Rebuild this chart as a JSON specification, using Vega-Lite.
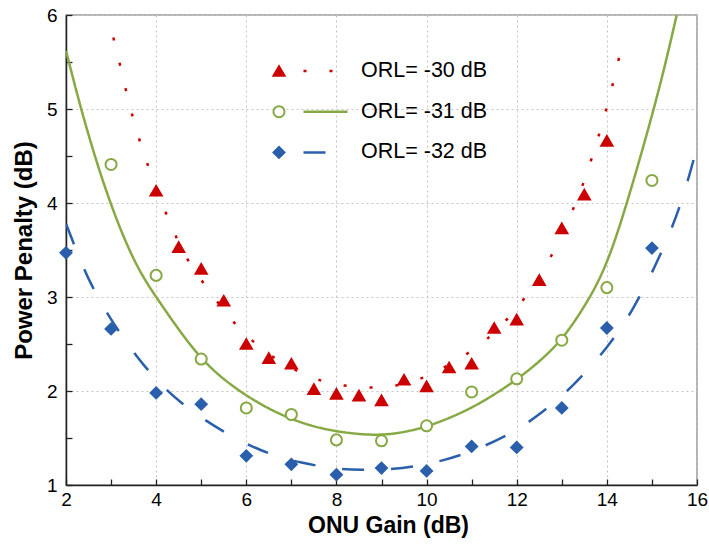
{
  "$schema": "https://vega.github.io/schema/vega-lite/v6.json",
  "width": 631,
  "height": 470,
  "autosize": {"type": "none"},
  "padding": {"left": 66, "top": 15, "right": 12, "bottom": 59},
  "background": "white",
  "config": {
    "view": {"stroke": "#9a9a9a", "strokeWidth": 1.5},
    "font": "Liberation Sans"
  },
  "datasets": {
    "fitted": [
      {"series": "ORL= -30 dB", "gain": 3.05, "penalty": 5.76},
      {"series": "ORL= -30 dB", "gain": 3.2, "penalty": 5.47},
      {"series": "ORL= -30 dB", "gain": 3.4, "penalty": 5.05},
      {"series": "ORL= -30 dB", "gain": 3.6, "penalty": 4.71},
      {"series": "ORL= -30 dB", "gain": 3.8, "penalty": 4.42},
      {"series": "ORL= -30 dB", "gain": 4.0, "penalty": 4.15},
      {"series": "ORL= -30 dB", "gain": 4.2, "penalty": 3.91},
      {"series": "ORL= -30 dB", "gain": 4.4, "penalty": 3.69},
      {"series": "ORL= -30 dB", "gain": 4.6, "penalty": 3.46},
      {"series": "ORL= -30 dB", "gain": 5.0, "penalty": 3.18},
      {"series": "ORL= -30 dB", "gain": 5.4, "penalty": 2.92},
      {"series": "ORL= -30 dB", "gain": 5.8, "penalty": 2.68},
      {"series": "ORL= -30 dB", "gain": 6.3, "penalty": 2.46},
      {"series": "ORL= -30 dB", "gain": 6.8, "penalty": 2.29},
      {"series": "ORL= -30 dB", "gain": 7.4, "penalty": 2.15},
      {"series": "ORL= -30 dB", "gain": 7.9, "penalty": 2.07},
      {"series": "ORL= -30 dB", "gain": 8.5, "penalty": 2.04},
      {"series": "ORL= -30 dB", "gain": 9.0, "penalty": 2.03},
      {"series": "ORL= -30 dB", "gain": 9.5, "penalty": 2.07},
      {"series": "ORL= -30 dB", "gain": 10.0, "penalty": 2.15},
      {"series": "ORL= -30 dB", "gain": 10.5, "penalty": 2.28},
      {"series": "ORL= -30 dB", "gain": 11.1, "penalty": 2.45},
      {"series": "ORL= -30 dB", "gain": 11.6, "penalty": 2.66},
      {"series": "ORL= -30 dB", "gain": 12.1, "penalty": 2.93},
      {"series": "ORL= -30 dB", "gain": 12.5, "penalty": 3.21},
      {"series": "ORL= -30 dB", "gain": 12.8, "penalty": 3.46},
      {"series": "ORL= -30 dB", "gain": 13.05, "penalty": 3.71},
      {"series": "ORL= -30 dB", "gain": 13.25, "penalty": 3.93},
      {"series": "ORL= -30 dB", "gain": 13.5, "penalty": 4.23},
      {"series": "ORL= -30 dB", "gain": 13.7, "penalty": 4.53},
      {"series": "ORL= -30 dB", "gain": 13.9, "penalty": 4.84},
      {"series": "ORL= -30 dB", "gain": 14.1, "penalty": 5.2},
      {"series": "ORL= -30 dB", "gain": 14.25, "penalty": 5.5},
      {"series": "ORL= -30 dB", "gain": 14.38, "penalty": 5.78},

      {"series": "ORL= -31 dB", "gain": 2.0, "penalty": 5.62},
      {"series": "ORL= -31 dB", "gain": 2.25, "penalty": 5.15},
      {"series": "ORL= -31 dB", "gain": 2.5, "penalty": 4.72},
      {"series": "ORL= -31 dB", "gain": 2.75, "penalty": 4.33},
      {"series": "ORL= -31 dB", "gain": 3.0, "penalty": 3.98},
      {"series": "ORL= -31 dB", "gain": 3.25, "penalty": 3.67},
      {"series": "ORL= -31 dB", "gain": 3.5, "penalty": 3.4},
      {"series": "ORL= -31 dB", "gain": 3.75, "penalty": 3.18},
      {"series": "ORL= -31 dB", "gain": 4.0, "penalty": 3.0},
      {"series": "ORL= -31 dB", "gain": 4.5, "penalty": 2.65},
      {"series": "ORL= -31 dB", "gain": 5.0, "penalty": 2.34},
      {"series": "ORL= -31 dB", "gain": 5.5, "penalty": 2.12},
      {"series": "ORL= -31 dB", "gain": 6.0, "penalty": 1.95},
      {"series": "ORL= -31 dB", "gain": 6.5, "penalty": 1.81},
      {"series": "ORL= -31 dB", "gain": 7.0, "penalty": 1.7},
      {"series": "ORL= -31 dB", "gain": 7.5, "penalty": 1.62},
      {"series": "ORL= -31 dB", "gain": 8.0, "penalty": 1.57},
      {"series": "ORL= -31 dB", "gain": 8.5, "penalty": 1.54},
      {"series": "ORL= -31 dB", "gain": 9.0, "penalty": 1.53},
      {"series": "ORL= -31 dB", "gain": 9.5, "penalty": 1.56},
      {"series": "ORL= -31 dB", "gain": 10.0, "penalty": 1.62},
      {"series": "ORL= -31 dB", "gain": 10.5, "penalty": 1.71},
      {"series": "ORL= -31 dB", "gain": 11.0, "penalty": 1.82},
      {"series": "ORL= -31 dB", "gain": 11.5, "penalty": 1.96},
      {"series": "ORL= -31 dB", "gain": 12.0, "penalty": 2.12},
      {"series": "ORL= -31 dB", "gain": 12.5, "penalty": 2.31},
      {"series": "ORL= -31 dB", "gain": 13.0, "penalty": 2.54},
      {"series": "ORL= -31 dB", "gain": 13.5, "penalty": 2.89},
      {"series": "ORL= -31 dB", "gain": 14.0, "penalty": 3.32},
      {"series": "ORL= -31 dB", "gain": 14.5, "penalty": 4.08},
      {"series": "ORL= -31 dB", "gain": 15.0, "penalty": 4.92},
      {"series": "ORL= -31 dB", "gain": 15.3, "penalty": 5.48},
      {"series": "ORL= -31 dB", "gain": 15.55, "penalty": 6.0},

      {"series": "ORL= -32 dB", "gain": 2.0, "penalty": 3.78},
      {"series": "ORL= -32 dB", "gain": 2.34, "penalty": 3.36},
      {"series": "ORL= -32 dB", "gain": 2.56, "penalty": 3.13},
      {"series": "ORL= -32 dB", "gain": 2.81, "penalty": 2.91},
      {"series": "ORL= -32 dB", "gain": 3.08, "penalty": 2.7},
      {"series": "ORL= -32 dB", "gain": 3.38, "penalty": 2.49},
      {"series": "ORL= -32 dB", "gain": 3.71, "penalty": 2.28},
      {"series": "ORL= -32 dB", "gain": 4.12, "penalty": 2.06},
      {"series": "ORL= -32 dB", "gain": 4.53, "penalty": 1.88},
      {"series": "ORL= -32 dB", "gain": 5.05, "penalty": 1.7},
      {"series": "ORL= -32 dB", "gain": 5.42, "penalty": 1.59},
      {"series": "ORL= -32 dB", "gain": 5.9, "penalty": 1.46},
      {"series": "ORL= -32 dB", "gain": 6.31, "penalty": 1.37},
      {"series": "ORL= -32 dB", "gain": 6.83, "penalty": 1.28},
      {"series": "ORL= -32 dB", "gain": 7.2, "penalty": 1.24},
      {"series": "ORL= -32 dB", "gain": 7.72, "penalty": 1.19},
      {"series": "ORL= -32 dB", "gain": 8.09, "penalty": 1.17},
      {"series": "ORL= -32 dB", "gain": 8.57, "penalty": 1.16},
      {"series": "ORL= -32 dB", "gain": 8.97, "penalty": 1.16},
      {"series": "ORL= -32 dB", "gain": 9.47, "penalty": 1.18},
      {"series": "ORL= -32 dB", "gain": 9.89, "penalty": 1.21},
      {"series": "ORL= -32 dB", "gain": 10.36, "penalty": 1.26},
      {"series": "ORL= -32 dB", "gain": 10.78, "penalty": 1.32},
      {"series": "ORL= -32 dB", "gain": 11.26, "penalty": 1.41},
      {"series": "ORL= -32 dB", "gain": 11.67, "penalty": 1.5},
      {"series": "ORL= -32 dB", "gain": 12.15, "penalty": 1.63},
      {"series": "ORL= -32 dB", "gain": 12.56, "penalty": 1.77},
      {"series": "ORL= -32 dB", "gain": 13.04, "penalty": 1.96},
      {"series": "ORL= -32 dB", "gain": 13.41, "penalty": 2.14},
      {"series": "ORL= -32 dB", "gain": 13.85, "penalty": 2.37},
      {"series": "ORL= -32 dB", "gain": 14.15, "penalty": 2.56},
      {"series": "ORL= -32 dB", "gain": 14.48, "penalty": 2.79},
      {"series": "ORL= -32 dB", "gain": 14.71, "penalty": 2.99},
      {"series": "ORL= -32 dB", "gain": 14.97, "penalty": 3.23},
      {"series": "ORL= -32 dB", "gain": 15.15, "penalty": 3.41},
      {"series": "ORL= -32 dB", "gain": 15.45, "penalty": 3.74},
      {"series": "ORL= -32 dB", "gain": 15.7, "penalty": 4.07},
      {"series": "ORL= -32 dB", "gain": 15.96, "penalty": 4.52},
      {"series": "ORL= -32 dB", "gain": 16.0, "penalty": 4.6}
    ],
    "measured": [
      {"series": "ORL= -30 dB", "gain": 4.0, "penalty": 4.13},
      {"series": "ORL= -30 dB", "gain": 4.5, "penalty": 3.53},
      {"series": "ORL= -30 dB", "gain": 5.0, "penalty": 3.3},
      {"series": "ORL= -30 dB", "gain": 5.5, "penalty": 2.96},
      {"series": "ORL= -30 dB", "gain": 6.0, "penalty": 2.5},
      {"series": "ORL= -30 dB", "gain": 6.5, "penalty": 2.35},
      {"series": "ORL= -30 dB", "gain": 7.0, "penalty": 2.29},
      {"series": "ORL= -30 dB", "gain": 7.5, "penalty": 2.02},
      {"series": "ORL= -30 dB", "gain": 8.0, "penalty": 1.97},
      {"series": "ORL= -30 dB", "gain": 8.5, "penalty": 1.95},
      {"series": "ORL= -30 dB", "gain": 9.0, "penalty": 1.9},
      {"series": "ORL= -30 dB", "gain": 9.5, "penalty": 2.12},
      {"series": "ORL= -30 dB", "gain": 10.0, "penalty": 2.05},
      {"series": "ORL= -30 dB", "gain": 10.5, "penalty": 2.25},
      {"series": "ORL= -30 dB", "gain": 11.0, "penalty": 2.29},
      {"series": "ORL= -30 dB", "gain": 11.5, "penalty": 2.67},
      {"series": "ORL= -30 dB", "gain": 12.0, "penalty": 2.76},
      {"series": "ORL= -30 dB", "gain": 12.5, "penalty": 3.18},
      {"series": "ORL= -30 dB", "gain": 13.0, "penalty": 3.73},
      {"series": "ORL= -30 dB", "gain": 13.5, "penalty": 4.09},
      {"series": "ORL= -30 dB", "gain": 14.0, "penalty": 4.66},

      {"series": "ORL= -31 dB", "gain": 3.0, "penalty": 4.41},
      {"series": "ORL= -31 dB", "gain": 4.0, "penalty": 3.23},
      {"series": "ORL= -31 dB", "gain": 5.0, "penalty": 2.34},
      {"series": "ORL= -31 dB", "gain": 6.0, "penalty": 1.82},
      {"series": "ORL= -31 dB", "gain": 7.0, "penalty": 1.75},
      {"series": "ORL= -31 dB", "gain": 8.0, "penalty": 1.48},
      {"series": "ORL= -31 dB", "gain": 9.0, "penalty": 1.47},
      {"series": "ORL= -31 dB", "gain": 10.0, "penalty": 1.63},
      {"series": "ORL= -31 dB", "gain": 11.0, "penalty": 1.99},
      {"series": "ORL= -31 dB", "gain": 12.0, "penalty": 2.13},
      {"series": "ORL= -31 dB", "gain": 13.0, "penalty": 2.54},
      {"series": "ORL= -31 dB", "gain": 14.0, "penalty": 3.1},
      {"series": "ORL= -31 dB", "gain": 15.0, "penalty": 4.24},

      {"series": "ORL= -32 dB", "gain": 2.0, "penalty": 3.47},
      {"series": "ORL= -32 dB", "gain": 3.0, "penalty": 2.66},
      {"series": "ORL= -32 dB", "gain": 4.0, "penalty": 1.98},
      {"series": "ORL= -32 dB", "gain": 5.0, "penalty": 1.86},
      {"series": "ORL= -32 dB", "gain": 6.0, "penalty": 1.31},
      {"series": "ORL= -32 dB", "gain": 7.0, "penalty": 1.22},
      {"series": "ORL= -32 dB", "gain": 8.0, "penalty": 1.11},
      {"series": "ORL= -32 dB", "gain": 9.0, "penalty": 1.18},
      {"series": "ORL= -32 dB", "gain": 10.0, "penalty": 1.15},
      {"series": "ORL= -32 dB", "gain": 11.0, "penalty": 1.41},
      {"series": "ORL= -32 dB", "gain": 12.0, "penalty": 1.4},
      {"series": "ORL= -32 dB", "gain": 13.0, "penalty": 1.82},
      {"series": "ORL= -32 dB", "gain": 14.0, "penalty": 2.67},
      {"series": "ORL= -32 dB", "gain": 15.0, "penalty": 3.52}
    ]
  },
  "layer": [
    {
      "data": {"name": "fitted"},
      "mark": {"type": "line", "interpolate": "basis", "strokeWidth": 2.5, "clip": true},
      "encoding": {
        "x": {
          "field": "gain", "type": "quantitative",
          "scale": {"domain": [2, 16], "nice": false, "zero": false},
          "axis": {
            "orient": "bottom",
            "values": [2, 3, 4, 5, 6, 7, 8, 9, 10, 11, 12, 13, 14, 15, 16],
            "grid": true, "gridColor": "#c4c4c4", "gridDash": [2, 3], "gridWidth": 1,
            "gridOpacity": {"condition": {"test": "datum.value % 2 === 0", "value": 1}, "value": 0},
            "ticks": true, "tickSize": -6, "tickColor": "#222222", "tickWidth": 1.3, "tickOpacity": 1,
            "domain": true, "domainColor": "#222222", "domainWidth": 1.5,
            "labelExpr": "datum.value % 2 === 0 ? format(datum.value, 'd') : ''",
            "labelFont": "Liberation Sans", "labelFontSize": 19, "labelColor": "#000000",
            "labelPadding": 11, "labelFlush": false, "labelOverlap": false,
            "title": "ONU Gain (dB)",
            "titleFont": "Liberation Sans", "titleFontSize": 23, "titleFontWeight": "bold",
            "titleColor": "#000000", "titlePadding": 5, "titleX": 322
          }
        },
        "y": {
          "field": "penalty", "type": "quantitative",
          "scale": {"domain": [1, 6], "nice": false, "zero": false},
          "axis": {
            "orient": "left",
            "values": [1, 1.5, 2, 2.5, 3, 3.5, 4, 4.5, 5, 5.5, 6],
            "grid": true, "gridColor": "#c4c4c4", "gridDash": [2, 3], "gridWidth": 1,
            "gridOpacity": {"condition": {"test": "datum.value % 1 === 0", "value": 1}, "value": 0},
            "ticks": true, "tickSize": -6, "tickColor": "#222222", "tickWidth": 1.3, "tickOpacity": 1,
            "domain": true, "domainColor": "#222222", "domainWidth": 1.5,
            "labelExpr": "datum.value % 1 === 0 ? format(datum.value, 'd') : ''",
            "labelFont": "Liberation Sans", "labelFontSize": 19, "labelColor": "#000000",
            "labelPadding": 15, "labelFlush": false, "labelOverlap": false,
            "title": "Power Penalty (dB)",
            "titleFont": "Liberation Sans", "titleFontSize": 24, "titleFontWeight": "bold",
            "titleColor": "#000000", "titlePadding": 10
          }
        },
        "color": {
          "field": "series", "type": "nominal",
          "scale": {"range": ["#cc0000", "#87a944", "#2a5fab"]},
          "legend": {
            "orient": "none", "legendX": 236, "legendY": 36, "title": null, "padding": 0,
            "symbolType": "stroke", "symbolSize": 1936, "symbolStrokeWidth": 2.5,
            "labelFont": "Liberation Sans", "labelFontSize": 21.5, "labelColor": "#000000",
            "labelOffset": 12, "clipHeight": 40, "rowPadding": 0.7
          }
        },
        "strokeDash": {
          "field": "series", "type": "nominal",
          "scale": {"range": [[3, 23], [1, 0], [22, 27]]},
          "legend": null
        },
        "detail": {"field": "series"}
      }
    },
    {
      "data": {"name": "measured"},
      "mark": {"type": "point", "strokeWidth": 2, "opacity": 1},
      "encoding": {
        "x": {"field": "gain", "type": "quantitative"},
        "y": {"field": "penalty", "type": "quantitative"},
        "shape": {
          "field": "series", "type": "nominal",
          "scale": {"range": ["triangle-up", "circle", "diamond"]},
          "legend": {
            "orient": "none", "legendX": 206, "legendY": 36, "title": null, "padding": 0,
            "labelExpr": "''", "clipHeight": 40, "rowPadding": 0.7, "symbolStrokeWidth": 2
          }
        },
        "fill": {
          "field": "series", "type": "nominal",
          "scale": {"range": ["#cc0000", "#ffffff", "#2a5fab"]},
          "legend": {
            "orient": "none", "legendX": 206, "legendY": 36, "title": null, "padding": 0,
            "labelExpr": "''", "clipHeight": 40, "rowPadding": 0.7, "symbolStrokeWidth": 2
          }
        },
        "stroke": {
          "field": "series", "type": "nominal",
          "scale": {"range": ["#cc0000", "#87a944", "#2a5fab"]},
          "legend": {
            "orient": "none", "legendX": 206, "legendY": 36, "title": null, "padding": 0,
            "labelExpr": "''", "clipHeight": 40, "rowPadding": 0.7, "symbolStrokeWidth": 2
          }
        },
        "size": {
          "field": "series", "type": "nominal",
          "scale": {"range": [125, 121, 140]},
          "legend": {
            "orient": "none", "legendX": 206, "legendY": 36, "title": null, "padding": 0,
            "labelExpr": "''", "clipHeight": 40, "rowPadding": 0.7, "symbolStrokeWidth": 2
          }
        }
      }
    }
  ]
}
